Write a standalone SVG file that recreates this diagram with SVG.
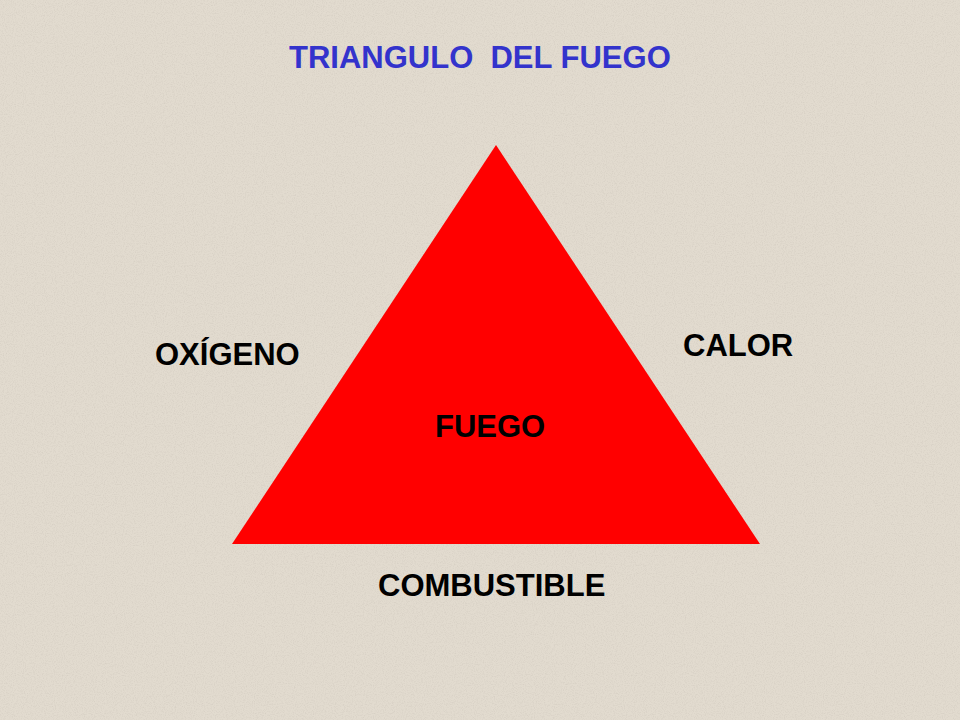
<svg xmlns="http://www.w3.org/2000/svg" width="960" height="720" viewBox="0 0 960 720">
  <defs>
    <filter id="grain" x="0" y="0" width="100%" height="100%">
      <feTurbulence type="fractalNoise" baseFrequency="0.9" numOctaves="2" seed="4" result="n"/>
      <feColorMatrix in="n" type="matrix" values="0 0 0 0 0.55  0 0 0 0 0.5  0 0 0 0 0.44  0 0 0 -2.2 1.25" />
    </filter>
  </defs>
  <style>
    .lbl { font-family: "Liberation Sans", Arial, sans-serif; font-weight: bold; font-size: 31px; fill: #000000; }
    .title { font-family: "Liberation Sans", Arial, sans-serif; font-weight: bold; font-size: 31px; fill: #3333CC; }
  </style>
  <rect x="0" y="0" width="960" height="720" fill="#e2dbcf"/>
  <rect x="0" y="0" width="960" height="720" filter="url(#grain)" opacity="0.35"/>

  <g id="title">
    <text class="title" x="289" y="68" xml:space="preserve">TRIANGULO  DEL FUEGO</text>
  </g>

  <g id="triangle">
    <polygon points="496,145 760,544 232,544" fill="#ff0000"/>
    <text class="lbl" x="435" y="437">FUEGO</text>
  </g>

  <g id="oxigeno">
    <text class="lbl" x="155" y="365">OXÍGENO</text>
  </g>

  <g id="calor">
    <text class="lbl" x="683" y="356">CALOR</text>
  </g>

  <g id="combustible">
    <text class="lbl" x="378" y="596">COMBUSTIBLE</text>
  </g>

  <g id="connectors"></g>
</svg>
